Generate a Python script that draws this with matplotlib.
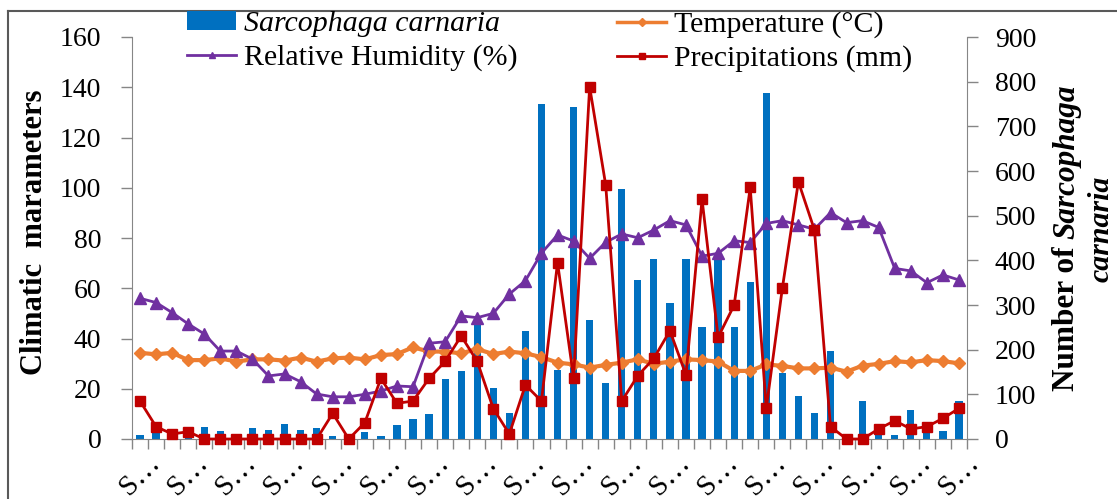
import matplotlib
matplotlib.use('Agg')
import matplotlib.pyplot as plt
from matplotlib.lines import Line2D
from matplotlib.patches import Patch
import numpy as np

weeks = list(range(1, 53))
sarcophaga = [9, 18, 6, 14, 26, 17, 4, 25, 20, 34, 20, 25, 6, 9, 15, 7, 31, 44, 57, 134,
              153, 263, 115, 58, 242, 749, 154, 744, 266, 125, 559, 356, 404, 304, 404, 251,
              404, 251, 352, 774, 148, 96, 59, 197, 0, 85, 16, 9, 64, 26, 18, 85]
temperature = [34.3, 33.7, 34.3, 31.4, 31.4, 32.1, 30.8, 31.7, 31.7, 31.2, 32.4, 30.8, 32.1,
               32.4, 31.7, 33.4, 33.8, 36.5, 34.8, 34.8, 34.1, 35.8, 33.8, 34.8, 34.1, 32.6,
               30.4, 29.7, 28.4, 29.5, 30.4, 31.7, 29.9, 30.8, 31.7, 31.4, 30.8, 27.1, 27.1,
               29.7, 29.1, 28.1, 28.1, 28.4, 26.8, 29.2, 29.9, 31.0, 30.5, 31.4, 31.0, 30.1]
humidity = [56.0, 54.3, 50.3, 45.8, 41.8, 35.0, 35.0, 31.8, 25.1, 25.9, 22.8, 17.9, 16.8,
            16.8, 17.8, 19.1, 21.1, 20.8, 38.1, 38.7, 49.0, 48.3, 50.0, 57.7, 63.0, 74.0,
            81.2, 78.8, 71.9, 78.3, 81.6, 80.1, 83.2, 86.9, 85.2, 72.8, 73.9, 78.9, 78.2,
            85.8, 86.9, 85.2, 83.5, 90.1, 86.1, 86.9, 84.2, 67.9, 66.9, 62.2, 65.3, 63.3]
precipitation = [15.1, 4.9, 2.0, 2.9, 0, 0, 0, 0, 0, 0, 0, 0, 10.2, 0, 6.5, 24.1, 14.2,
                 15.1, 24.1, 30.9, 41.0, 30.9, 12.1, 2.0, 21.5, 15.1, 70.2, 24.4, 140.2,
                 101.1, 15.1, 25.2, 32.1, 43.1, 25.5, 95.4, 40.5, 53.3, 100.1, 12.2, 60.0,
                 102.4, 83.2, 4.9, 0, 0, 4.0, 7.3, 4.0, 4.9, 8.2, 12.2]
tick_labels = ["S\u2026"] * 18

plt.rcParams['font.family'] = ['Liberation Serif', 'DejaVu Serif']

W, H = 1117, 499
fig = plt.figure(figsize=(W / 100, H / 100), dpi=100)
ax = fig.add_axes([132 / W, 1 - 439 / H, (967 - 132) / W, (439 - 37) / H])
ax2 = ax.twinx()

x = np.arange(len(weeks))
ax2.bar(x, sarcophaga, width=0.45, color='#0070C0', zorder=2)
ax.set_zorder(ax2.get_zorder() + 1)
ax.patch.set_visible(False)

ax.plot(x, temperature, color='#ED7D31', lw=3, marker='D', ms=6, clip_on=False, zorder=3)
ax.plot(x, humidity, color='#7030A0', lw=2, marker='^', ms=8.5, clip_on=False, zorder=4)
ax.plot(x, precipitation, color='#C00000', lw=2, marker='s', ms=7, clip_on=False, zorder=5)

ax.set_xlim(-0.5, len(weeks) - 0.5)
ax.set_ylim(0, 160)
ax2.set_ylim(0, 900)
ax.set_yticks(range(0, 161, 20))
ax2.set_yticks(range(0, 901, 100))

gray = '#868686'
for s in ['top', 'right']:
    ax.spines[s].set_visible(False)
for s in ['top', 'left', 'bottom']:
    ax2.spines[s].set_visible(False)
ax.spines['left'].set_color(gray)
ax.spines['bottom'].set_color(gray)
ax2.spines['right'].set_color(gray)

ax.tick_params(axis='y', length=8, color=gray, labelsize=20, pad=14, width=1)
ax2.tick_params(axis='y', length=8, color=gray, labelsize=20, pad=12, width=1)

ax.set_xticks(np.arange(-0.5, len(weeks), 1))
ax.set_xticklabels([])
ax.tick_params(axis='x', which='major', length=7, color=gray, width=1)
ax.set_xticks(np.arange(0, len(weeks), 3), minor=True)
ax.set_xticklabels(tick_labels, minor=True, rotation=45, ha='center', va='top', fontsize=21)
ax.tick_params(axis='x', which='minor', length=0, pad=8)

# y labels
fig.text(35 / W, 1 - 232 / H, 'Climatic  marameters', rotation=90, ha='center', va='center',
         fontsize=22, fontweight='bold')

renderer = fig.canvas.get_renderer()
t1 = fig.text(0, 0, 'Number of', rotation=90, rotation_mode='anchor', ha='left', va='center',
              fontsize=22.5, fontweight='bold')
t2 = fig.text(0, 0, 'Sarcophaga', rotation=90, rotation_mode='anchor', ha='left', va='center',
              fontsize=22.5, fontweight='bold', style='italic')
l1 = t1.get_window_extent(renderer).height
l2 = t2.get_window_extent(renderer).height
gap = 7
total = l1 + gap + l2
yc = H - 238
y0 = yc - total / 2
xr = 1067
t1.set_position((xr / W, y0 / H))
t2.set_position((xr / W, (y0 + l1 + gap) / H))
fig.text(1101 / W, 1 - 229 / H, 'carnaria', rotation=90, ha='center', va='center',
         fontsize=21.5, fontweight='bold', style='italic')

# legends
h_bar = Patch(facecolor='#0070C0', edgecolor='none')
h_t = Line2D([], [], color='#ED7D31', lw=2.5, marker='D', ms=4)
h_h = Line2D([], [], color='#7030A0', lw=2, marker='^', ms=5)
h_p = Line2D([], [], color='#C00000', lw=2, marker='s', ms=4)
legkw = dict(frameon=False, fontsize=21.5, loc='upper left', borderpad=0, borderaxespad=0,
             handlelength=1.65, handletextpad=0.25, labelspacing=0.25, handleheight=0.6)
leg1 = fig.legend([h_bar, h_h], ['Sarcophaga carnaria', 'Relative Humidity (%)'],
                  bbox_to_anchor=(187 / W, 1 - 11 / H), **legkw)
leg1.get_texts()[0].set_style('italic')
leg2 = fig.legend([h_t, h_p], ['Temperature (\u00b0C)', 'Precipitations (mm)'],
                  bbox_to_anchor=(617 / W, 1 - 11 / H), **legkw)

# figure frame
fig.add_artist(Line2D([8 / W, 1], [1 - 11 / H, 1 - 11 / H], color='#595959', lw=1.5,
                      transform=fig.transFigure))
fig.add_artist(Line2D([8 / W, 8 / W], [0, 1 - 11 / H], color='#595959', lw=1.5,
                      transform=fig.transFigure))

fig.savefig('out.png', dpi=100)
